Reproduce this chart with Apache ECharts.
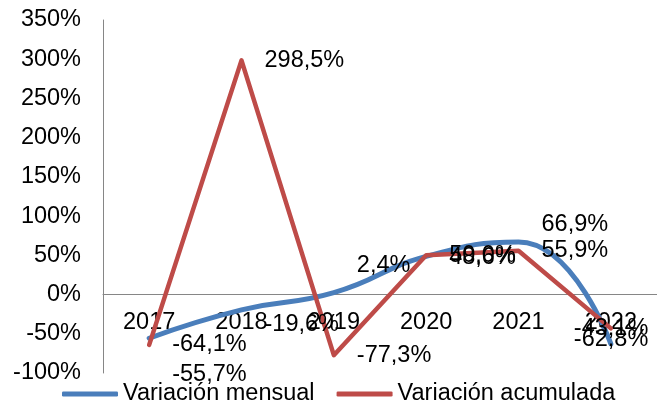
<!DOCTYPE html>
<html>
<head>
<meta charset="utf-8">
<script src="https://cdn.jsdelivr.net/npm/echarts@6/dist/echarts.min.js"></script>
<style>
  html, body { margin: 0; padding: 0; background: #fff; }
  #chart { width: 657px; height: 408px; }
</style>
</head>
<body>
<div id="chart"></div>
<script>
// datos
const years = ['2017', '2018', '2019', '2020', '2021', '2022']
const mensual = [-55.7, -19.6, 2.4, 48.6, 66.9, -62.8]
const acumulada = [-64.1, 298.5, -77.3, 50.0, 55.9, -43.1]
const yTicks = { min: -100, max: 350, step: 50 }

// desplazamiento de etiquetas (como las dejó Excel)
const mensualLabelShift = [[0, 36], [0, 15], [0, -27], [0, 1], [0, -18], [-60, -4]]
const acumuladaLabelShift = [[0, 0], [0, 0], [0, 0], [0, 0], [0, 0], [-60, 0]]

const font = 'Arial, "Liberation Sans", sans-serif'
const fontSize = 23.5
const fmt = v => v.toFixed(1).replace('.', ',') + '%'

const withLabels = (values, shifts) => values.map((v, i) => ({
  value: v,
  label: { offset: shifts[i] }
}))

const chart = echarts.init(document.getElementById('chart'), null, { renderer: 'canvas' })

const dataLabel = {
  show: true,
  position: 'right',
  distance: 23,
  fontFamily: font,
  fontSize: fontSize,
  color: '#000',
  formatter: p => fmt(p.value)
}

chart.setOption({
  animation: false,
  backgroundColor: '#ffffff',
  textStyle: { fontFamily: font, color: '#000' },
  grid: { left: 103, right: -7, top: 20, bottom: 35, containLabel: false },
  legend: {
    left: 62,
    top: 382,
    padding: 0,
    itemGap: 22,
    itemWidth: 56,
    itemHeight: 5,
    icon: 'roundRect',
    textStyle: { fontFamily: font, fontSize: fontSize, color: '#000' },
    data: ['Variación mensual', 'Variación acumulada']
  },
  xAxis: {
    type: 'category',
    data: years,
    boundaryGap: true,
    axisLine: { onZero: true, lineStyle: { color: '#868686', width: 1 } },
    axisTick: { show: false },
    // las etiquetas van junto a la línea del cero
    axisLabel: { fontFamily: font, fontSize: fontSize, color: '#000', margin: -62 },
    splitLine: { show: false }
  },
  yAxis: {
    type: 'value',
    min: yTicks.min,
    max: yTicks.max,
    interval: yTicks.step,
    axisLine: { show: true, lineStyle: { color: '#868686', width: 1 } },
    axisTick: { show: false },
    axisLabel: { fontFamily: font, fontSize: fontSize, color: '#000', margin: 22, formatter: '{value}%' },
    splitLine: { show: false }
  },
  series: [
    {
      name: 'Variación mensual',
      type: 'line',
      smooth: 0.5,
      symbol: 'circle',
      symbolSize: 0,
      color: '#4A7EBB',
      lineStyle: { width: 5, color: '#4A7EBB', cap: 'round', join: 'round' },
      label: dataLabel,
      data: withLabels(mensual, mensualLabelShift)
    },
    {
      name: 'Variación acumulada',
      type: 'line',
      symbol: 'circle',
      symbolSize: 0,
      color: '#BE4B48',
      lineStyle: { width: 4.5, color: '#BE4B48', cap: 'round', join: 'round' },
      label: dataLabel,
      data: withLabels(acumulada, acumuladaLabelShift)
    }
  ]
})
</script>
</body>
</html>
